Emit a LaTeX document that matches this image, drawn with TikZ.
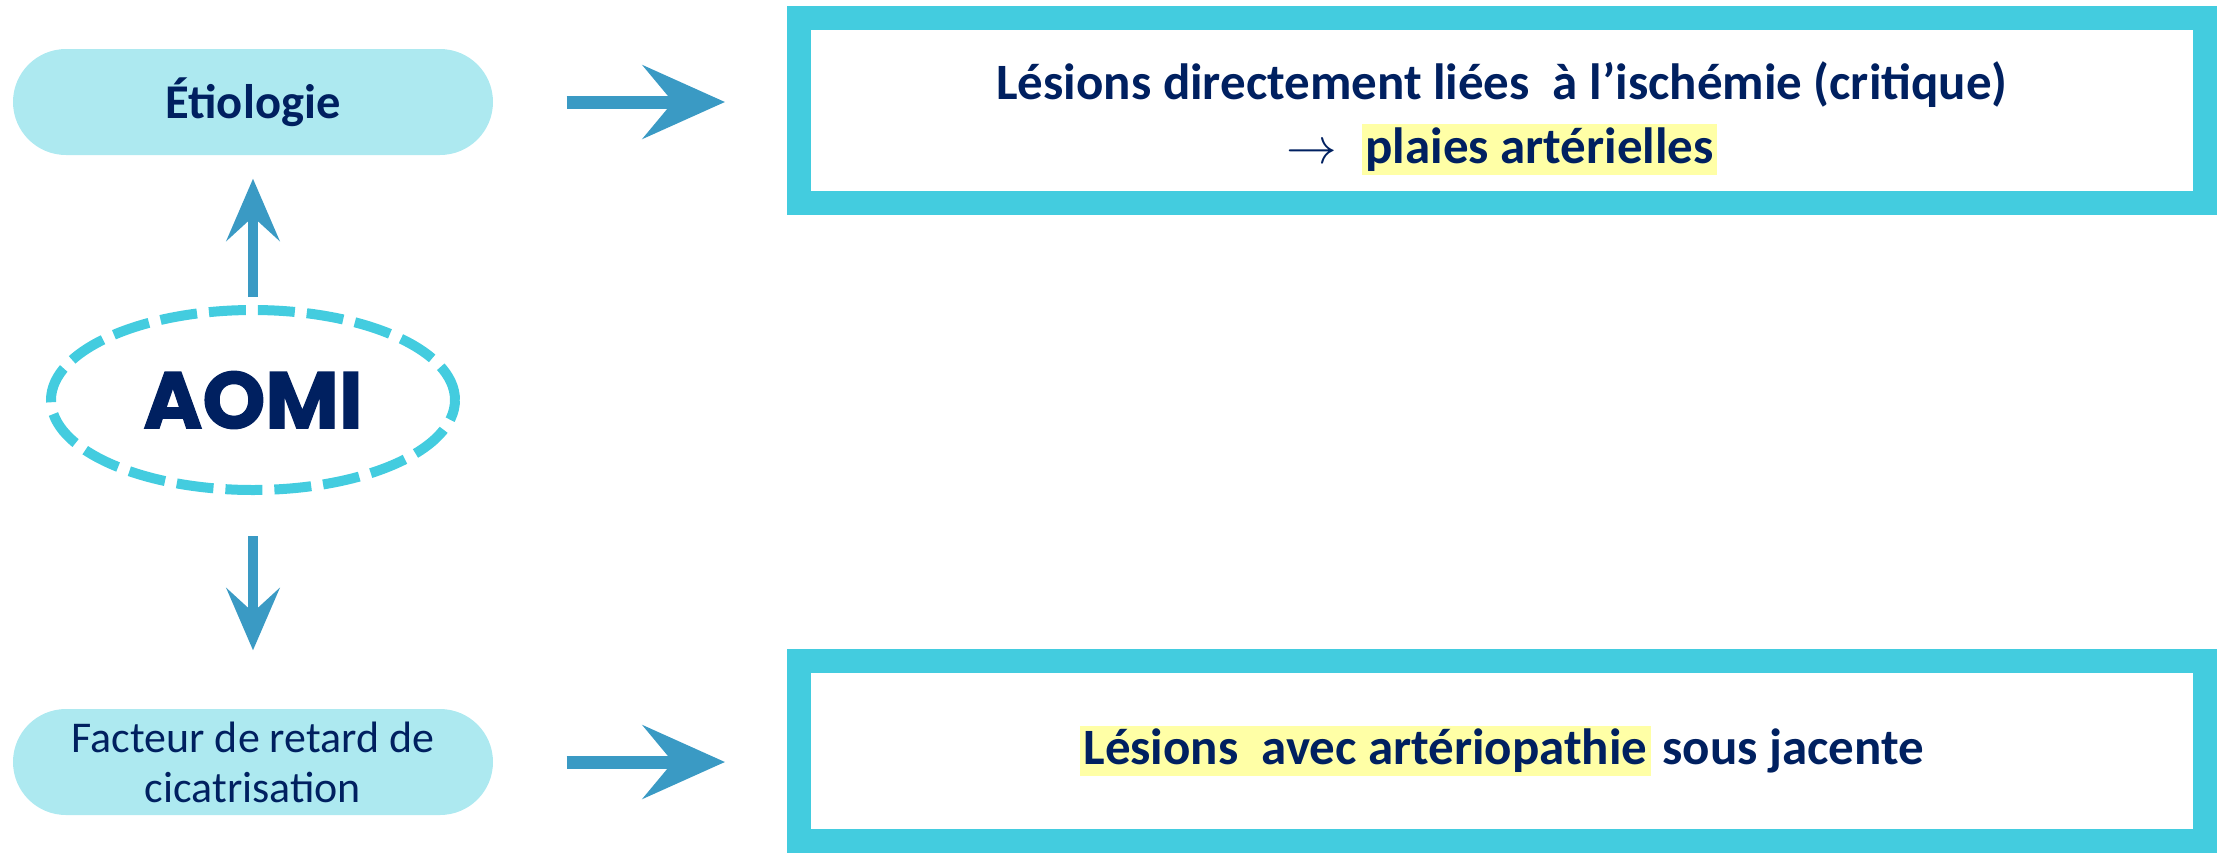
\documentclass[tikz,border=0pt]{standalone}
\usepackage{fontspec}
\setmainfont{Carlito}
\newfontfamily\aomifont{Poppins}[BoldFeatures={FakeBold=1.6}]
\usetikzlibrary{arrows.meta,shapes.geometric}

\definecolor{navy}{HTML}{002060}
\definecolor{framecyan}{HTML}{43CCDF}
\definecolor{pillcyan}{HTML}{ADE9F0}
\definecolor{brushblue}{HTML}{3A9AC4}
\definecolor{marker}{HTML}{FFFFA6}
\newcommand{\hl}[1]{{\setlength{\fboxsep}{1pt}\colorbox{marker}{#1}}}

\begin{document}
\begin{tikzpicture}[x=0.1mm,y=-0.1mm,
    pill/.style={fill=pillcyan,rounded corners=5.3mm,minimum width=48mm,minimum height=10.6mm,inner sep=0pt,text=navy,align=center},
    lesion/.style={draw=framecyan,line width=2.4mm,minimum width=140.6mm,inner sep=0pt,text=navy,align=center},
    brushH/.style={draw=brushblue,line width=1.3mm,-{Stealth[length=8.2mm,width=7.3mm,inset=3mm]}},
    brushV/.style={draw=brushblue,line width=1mm,-{Stealth[length=6.2mm,width=5.3mm,inset=2.4mm]}}]
                \useasboundingbox (0,0) rectangle (2217,853);
                \node[pill,font=\bfseries\fontsize{13.8}{16}\selectfont](etio)at(253, 102){Étiologie};
                \node[pill,font=\fontsize{12.5}{14.2}\selectfont](facteur)at(253, 762){Facteur de retard de\\cicatrisation};
                \node[ellipse,draw=framecyan,line width=1mm,dash pattern=on 3.7mm off 1.2mm,minimum width=40.4mm,minimum height=18mm,inner sep=0pt,text=navy,font=\aomifont\bfseries\fontsize{22.8}{26}\selectfont](aomi)at(253, 400){AOMI};
                \node[lesion,minimum height=18.5mm,text height=34.2pt,text depth=4pt,font=\bfseries\fontsize{14.5}{18.2}\selectfont](lesA)at(1502, 110){L\'esions directement li\'ees\ \ \`a l’isch\'emie (critique)\\$\rightarrow$\hspace{7pt}\hl{plaies art\'erielles}};
                \node[lesion,minimum height=18mm,font=\bfseries\fontsize{14.5}{18}\selectfont](lesB)at(1502, 751){\hl{L\'esions\ \ avec art\'eriopathie} sous jacente};
                \path(aomi) edge[brushV,shorten <=0.8mm,shorten >=2.3mm] (etio)
                (aomi) edge[brushV,shorten <=4.1mm,shorten >=5.8mm] (facteur);
                \path(etio.east) edge[brushH,shorten <=7.3mm,shorten >=6.2mm] (etio.east -| lesA.west)
                (facteur.east) edge[brushH,shorten <=7.3mm,shorten >=6.2mm] (facteur.east -| lesB.west);
            \end{tikzpicture}
\end{document}
